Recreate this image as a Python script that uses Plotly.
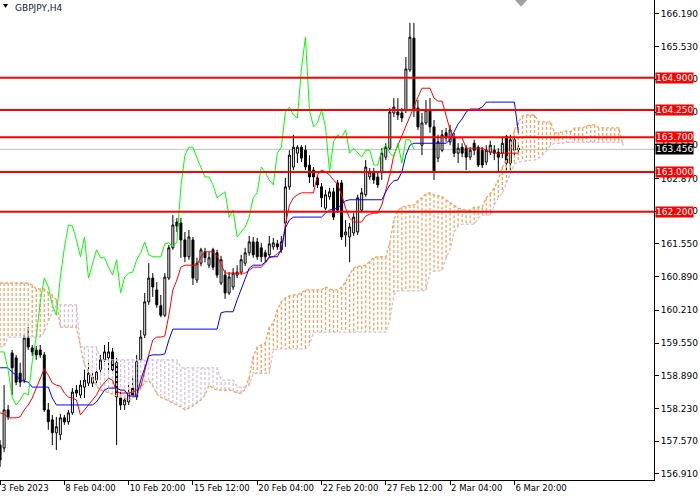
import plotly.graph_objects as go

# GBPJPY H4 candles, bar 0 = 3 Feb 2023 12:00
opens = [157.49, 157.43, 158.20, 159.35, 159.25, 158.94, 158.80, 159.65, 159.45, 159.41,
         159.41, 159.31, 158.20, 158.00, 157.74, 157.70, 158.04, 157.96, 158.14, 158.60,
         158.50, 158.66, 158.74, 158.74, 158.80, 159.01, 159.21, 159.25, 159.37, 159.15,
         158.44, 158.30, 158.36, 158.64, 158.46, 159.21, 159.71, 160.38, 160.86, 160.62,
         160.30, 160.11, 160.86, 161.47, 161.99, 161.97, 161.63, 161.29, 161.63, 160.82,
         161.16, 161.39, 161.12, 161.43, 161.37, 160.76, 160.92, 160.56, 160.68, 160.92,
         160.98, 161.16, 161.37, 161.59, 161.59, 161.47, 161.37, 161.33, 161.49, 161.55,
         161.43, 161.97, 162.70, 163.10, 163.38, 163.50, 163.44, 163.14, 163.04, 162.88,
         162.70, 162.27, 162.50, 162.60, 162.78, 162.78, 161.73, 161.69, 161.77, 161.79,
         162.23, 162.54, 162.90, 163.00, 162.90, 163.00, 163.30, 163.48, 164.19, 164.21,
         164.19, 164.25, 165.06, 165.70, 164.29, 163.54, 163.99, 164.25, 163.91, 163.28,
         163.44, 163.79, 163.61, 163.71, 163.38, 163.50, 163.48, 163.30, 163.58, 163.50,
         163.44, 163.20, 163.40, 163.44, 163.40, 163.38, 163.71, 163.18, 163.44, 163.48]
highs = [157.59, 158.70, 158.30, 159.41, 159.31, 159.15, 159.71, 159.87, 159.51, 159.49,
         159.51, 159.37, 158.34, 158.10, 158.06, 158.12, 158.10, 158.20, 158.64, 158.70,
         158.80, 159.01, 159.15, 158.96, 159.05, 159.31, 159.51, 159.57, 159.45, 159.25,
         158.60, 158.50, 158.70, 158.84, 159.31, 159.81, 160.56, 161.16, 160.96, 160.78,
         160.52, 160.96, 161.53, 162.13, 162.07, 162.07, 161.79, 161.83, 161.69, 161.27,
         161.47, 161.47, 161.39, 161.47, 161.43, 161.31, 161.02, 160.98, 161.06, 161.12,
         161.33, 161.47, 161.71, 161.69, 161.67, 161.57, 161.43, 161.71, 161.67, 161.63,
         161.71, 162.88, 163.44, 163.75, 163.54, 163.54, 163.54, 163.34, 163.10, 162.94,
         162.78, 162.64, 162.68, 162.68, 162.84, 162.84, 162.03, 161.97, 162.17, 162.54,
         162.68, 163.24, 163.08, 163.08, 163.00, 163.48, 163.58, 164.29, 164.49, 164.49,
         164.29, 165.32, 166.01, 166.01, 164.45, 164.19, 164.45, 164.49, 164.05, 163.75,
         163.85, 163.89, 163.95, 163.79, 163.58, 163.58, 163.54, 163.50, 163.65, 163.54,
         163.50, 163.54, 163.63, 163.54, 163.48, 163.71, 163.75, 163.75, 163.71, 163.54]
lows = [157.05, 157.35, 158.00, 158.50, 158.70, 158.66, 158.74, 159.41, 159.29, 159.21,
        159.25, 158.16, 157.80, 157.49, 157.39, 157.59, 157.90, 157.90, 158.10, 158.46,
        158.44, 158.44, 158.68, 158.66, 158.74, 158.90, 159.17, 158.94, 158.96, 157.49,
        158.20, 158.20, 158.30, 158.44, 158.40, 159.17, 159.65, 160.32, 160.48, 160.26,
        160.07, 160.07, 160.82, 161.43, 161.79, 161.27, 161.18, 161.23, 160.72, 160.76,
        161.10, 161.18, 161.06, 161.02, 160.86, 160.72, 160.44, 160.52, 160.62, 160.86,
        160.92, 161.10, 161.31, 161.27, 161.23, 161.18, 161.18, 161.27, 161.43, 161.43,
        161.37, 161.49, 162.64, 163.04, 163.18, 163.20, 163.04, 162.78, 162.70, 162.68,
        162.29, 162.23, 162.44, 162.03, 162.17, 161.63, 161.49, 161.18, 161.71, 161.73,
        162.19, 162.50, 162.84, 162.76, 162.68, 162.84, 163.24, 163.44, 164.11, 164.05,
        164.01, 164.19, 165.02, 164.11, 163.85, 163.34, 163.95, 163.79, 162.84, 163.20,
        163.40, 163.61, 163.54, 163.30, 163.18, 163.30, 163.04, 163.24, 163.34, 163.10,
        163.08, 163.14, 163.34, 163.24, 163.00, 163.28, 163.04, 163.04, 163.34, 163.34]
closes = [157.19, 158.20, 158.06, 159.05, 158.76, 158.76, 159.65, 159.47, 159.37, 159.31,
          159.31, 158.20, 157.96, 157.74, 157.86, 158.04, 157.96, 158.14, 158.56, 158.54,
          158.70, 158.80, 158.94, 158.86, 158.96, 159.21, 159.37, 159.37, 159.01, 158.46,
          158.30, 158.40, 158.54, 158.50, 159.17, 159.67, 160.38, 160.86, 160.68, 160.32,
          160.11, 160.88, 161.47, 161.93, 161.91, 161.63, 161.29, 161.69, 160.86, 161.16,
          161.43, 161.27, 161.27, 161.08, 160.92, 161.23, 160.56, 160.88, 160.96, 160.98,
          161.23, 161.37, 161.59, 161.33, 161.29, 161.29, 161.29, 161.55, 161.57, 161.49,
          161.59, 162.70, 163.34, 163.50, 163.50, 163.28, 163.10, 162.90, 162.90, 162.74,
          162.48, 162.54, 162.60, 162.09, 162.23, 161.69, 161.79, 161.89, 162.09, 162.48,
          162.58, 163.10, 163.00, 162.84, 162.74, 163.38, 163.50, 164.21, 164.31, 164.15,
          164.09, 165.08, 165.72, 164.25, 163.91, 163.99, 164.25, 163.91, 163.00, 163.61,
          163.75, 163.69, 163.85, 163.38, 163.48, 163.38, 163.30, 163.44, 163.44, 163.14,
          163.14, 163.44, 163.54, 163.38, 163.30, 163.58, 163.18, 163.65, 163.65, 163.456]

# Ichimoku Tenkan-sen (red) and Kijun-sen (blue), one value per bar
tenkan = [158.14, 158.12, 158.04, 158.04, 158.04, 158.06, 158.20, 158.30, 158.44, 158.64,
          158.84, 159.03, 158.90, 158.74, 158.70, 158.68, 158.54, 158.46, 158.44, 158.40,
          158.10, 158.20, 158.30, 158.40, 158.50, 158.66, 158.76, 158.84, 158.80, 158.56,
          158.54, 158.54, 158.54, 158.56, 158.60, 158.66, 159.01, 159.31, 159.61, 159.67,
          159.67, 159.69, 160.11, 160.62, 160.82, 161.08, 161.12, 161.12, 161.12, 161.12,
          161.29, 161.39, 161.39, 161.39, 161.31, 161.12, 160.96, 160.96, 160.96, 160.96,
          160.96, 160.96, 161.02, 161.08, 161.08, 161.08, 161.16, 161.27, 161.29, 161.35,
          161.43, 161.93, 162.33, 162.48, 162.54, 162.58, 162.58, 162.58, 162.58, 162.94,
          163.04, 163.00, 162.94, 162.84, 162.74, 162.54, 162.27, 162.07, 161.99, 161.99,
          161.99, 162.11, 162.15, 162.17, 162.17, 162.33, 162.64, 162.94, 163.34, 163.54,
          163.71, 163.95, 164.15, 164.35, 164.51, 164.69, 164.69, 164.69, 164.49, 164.43,
          164.43, 164.15, 163.85, 163.69, 163.69, 163.69, 163.48, 163.48, 163.48, 163.48,
          163.48, 163.44, 163.40, 163.40, 163.36, 163.38, 163.38, 163.38, 163.38, 163.38]
kijun = [159.05, 159.05, 159.05, 158.96, 158.90, 158.80, 158.78, 158.76, 158.66, 158.66,
         158.66, 158.66, 158.66, 158.44, 158.30, 158.30, 158.30, 158.30, 158.30, 158.30,
         158.30, 158.30, 158.30, 158.30, 158.36, 158.48, 158.60, 158.64, 158.64, 158.64,
         158.60, 158.60, 158.48, 158.48, 158.48, 158.80, 159.07, 159.29, 159.31, 159.31,
         159.31, 159.33, 159.61, 159.83, 159.83, 159.83, 159.83, 159.83, 159.83, 159.83,
         159.83, 159.83, 159.83, 159.83, 159.83, 160.16, 160.18, 160.18, 160.18, 160.42,
         160.62, 160.82, 161.06, 161.12, 161.12, 161.12, 161.18, 161.29, 161.29, 161.29,
         161.43, 161.87, 162.03, 162.09, 162.09, 162.09, 162.09, 162.09, 162.09, 162.09,
         162.09, 162.17, 162.23, 162.25, 162.27, 162.35, 162.42, 162.44, 162.44, 162.44,
         162.44, 162.44, 162.44, 162.44, 162.44, 162.44, 162.60, 162.74, 162.82, 162.84,
         163.00, 163.34, 163.54, 163.58, 163.58, 163.58, 163.58, 163.58, 163.58, 163.58,
         163.58, 163.58, 163.65, 163.81, 163.97, 164.07, 164.21, 164.27, 164.27, 164.27,
         164.31, 164.41, 164.41, 164.41, 164.41, 164.41, 164.41, 164.41, 164.41, 163.79]

# Senkou span A / B (already shifted 26 bars forward), bars 0..155
span_a = [160.76, 160.76, 160.76, 160.76, 160.76, 160.76, 160.76, 160.76, 160.72, 160.64,
          160.64, 160.64, 160.56, 160.52, 160.42, 159.87, 159.87, 159.87, 159.87, 159.87,
          159.47, 159.11, 158.96, 158.84, 158.68, 158.60, 158.58, 158.54, 158.52, 158.48,
          158.46, 158.44, 158.40, 158.44, 158.50, 158.64, 158.76, 158.80, 158.68, 158.52,
          158.46, 158.42, 158.38, 158.34, 158.30, 158.26, 158.20, 158.24, 158.28, 158.34,
          158.40, 158.50, 158.70, 158.64, 158.60, 158.60, 158.60, 158.60, 158.58, 158.54,
          158.54, 158.62, 158.86, 159.27, 159.47, 159.51, 159.55, 159.87, 159.95, 160.22,
          160.38, 160.46, 160.50, 160.52, 160.52, 160.56, 160.62, 160.62, 160.62, 160.62,
          160.62, 160.68, 160.64, 160.62, 160.62, 160.68, 160.78, 160.94, 161.06, 161.10,
          161.10, 161.12, 161.20, 161.27, 161.29, 161.29, 161.29, 161.57, 162.03, 162.23,
          162.29, 162.31, 162.33, 162.33, 162.42, 162.48, 162.56, 162.58, 162.54, 162.52,
          162.50, 162.44, 162.38, 162.33, 162.27, 162.25, 162.23, 162.23, 162.29, 162.29,
          162.29, 162.48, 162.56, 162.68, 162.84, 163.10, 163.24, 163.44, 163.85, 164.01,
          164.13, 164.15, 164.15, 164.15, 164.01, 164.01, 164.01, 164.01, 163.79, 163.79,
          163.81, 163.83, 163.81, 163.89, 163.89, 163.89, 163.93, 163.95, 163.95, 163.89,
          163.89, 163.89, 163.89, 163.89, 163.89, 163.54]
span_b = [159.47, 159.47, 159.67, 159.67, 159.67, 159.67, 159.67, 159.67, 159.67, 159.67,
          159.67, 159.77, 159.97, 160.18, 160.30, 160.32, 160.32, 160.32, 160.32, 160.32,
          159.47, 159.47, 159.47, 159.47, 159.47, 159.21, 159.21, 159.21, 159.21, 159.21,
          159.21, 159.21, 159.21, 159.21, 159.21, 159.21, 159.21, 159.21, 159.21, 159.21,
          159.21, 159.21, 159.21, 159.21, 159.21, 159.05, 159.05, 159.05, 159.05, 159.05,
          159.05, 159.05, 159.05, 159.05, 159.05, 158.80, 158.80, 158.80, 158.80, 158.66,
          158.66, 158.66, 158.70, 158.94, 158.94, 158.94, 158.94, 158.94, 159.41, 159.43,
          159.43, 159.43, 159.43, 159.43, 159.43, 159.43, 159.43, 159.51, 159.77, 159.77,
          159.77, 159.77, 159.77, 159.77, 159.77, 159.77, 159.77, 159.77, 159.77, 159.77,
          159.77, 159.77, 159.77, 159.77, 159.77, 159.77, 159.77, 160.01, 160.52, 160.60,
          160.60, 160.60, 160.60, 160.60, 160.60, 160.60, 160.62, 160.96, 161.00, 161.00,
          161.02, 161.27, 161.43, 161.79, 161.91, 161.95, 161.95, 161.95, 161.95, 162.07,
          162.13, 162.13, 162.13, 162.33, 162.48, 162.58, 162.76, 162.96, 163.16, 163.20,
          163.22, 163.22, 163.24, 163.24, 163.28, 163.34, 163.42, 163.54, 163.58, 163.58,
          163.58, 163.60, 163.60, 163.60, 163.60, 163.60, 163.60, 163.60, 163.60, 163.60,
          163.60, 163.60, 163.60, 163.60, 163.60, 163.60]

levels = [164.900, 164.250, 163.700, 163.000, 162.200]
bid = 163.456

ytick_vals = [166.19, 165.53, 164.87, 164.21, 163.55, 162.87, 162.21, 161.55,
              160.89, 160.21, 159.55, 158.89, 158.23, 157.57, 156.91]
xtick_bars = [0, 16, 32, 48, 64, 80, 96, 112, 128]
xtick_text = ["3 Feb 2023", "8 Feb 04:00", "10 Feb 20:00", "15 Feb 12:00", "20 Feb 04:00",
              "22 Feb 20:00", "27 Feb 12:00", "2 Mar 04:00", "6 Mar 20:00"]

SANDY = "#F4A460"
THISTLE = "#D8BFD8"
FONT = "DejaVu Sans"

bars = list(range(len(closes)))
cloud_bars = list(range(len(span_a)))
shift = 26

fig = go.Figure()

fig.add_trace(go.Candlestick(
    x=bars, open=opens, high=highs, low=lows, close=closes,
    increasing=dict(line=dict(color="black", width=1), fillcolor="white"),
    decreasing=dict(line=dict(color="black", width=1), fillcolor="black"),
    whiskerwidth=0, hoverinfo="skip", showlegend=False))

# cloud hatching: one dashed vertical stroke per bar
hatch = {SANDY: ([], []), THISTLE: ([], [])}
for i in cloud_bars:
    col = SANDY if span_a[i] >= span_b[i] else THISTLE
    hatch[col][0].extend([i, i, None])
    hatch[col][1].extend([span_a[i], span_b[i], None])
for col, (hx, hy) in hatch.items():
    fig.add_trace(go.Scatter(x=hx, y=hy, mode="lines", connectgaps=False,
                             line=dict(color=col, width=1.3, dash="3px,2px"),
                             hoverinfo="skip", showlegend=False))

fig.add_trace(go.Scatter(x=cloud_bars, y=span_a, mode="lines",
                         line=dict(color=SANDY, width=1.3, dash="3px,2px"),
                         hoverinfo="skip", showlegend=False))
fig.add_trace(go.Scatter(x=cloud_bars, y=span_b, mode="lines",
                         line=dict(color=THISTLE, width=1.3, dash="3px,2px"),
                         hoverinfo="skip", showlegend=False))

fig.add_trace(go.Scatter(x=bars, y=tenkan, mode="lines",
                         line=dict(color="#FF0000", width=1),
                         hoverinfo="skip", showlegend=False))
fig.add_trace(go.Scatter(x=bars, y=kijun, mode="lines",
                         line=dict(color="#0000FF", width=1),
                         hoverinfo="skip", showlegend=False))
# chikou span = close plotted 26 bars back
fig.add_trace(go.Scatter(x=bars[:-shift], y=closes[shift:], mode="lines",
                         line=dict(color="#00FF00", width=1),
                         hoverinfo="skip", showlegend=False))

shapes = [dict(type="line", xref="paper", x0=0, x1=1, yref="y", y0=bid, y1=bid,
               line=dict(color="#C0C0C0", width=1), layer="below")]
annotations = []
for lv in levels:
    shapes.append(dict(type="line", xref="paper", x0=0, x1=1, yref="y", y0=lv, y1=lv,
                       line=dict(color="#FF0000", width=2), layer="above"))
    annotations.append(dict(xref="paper", x=1, xanchor="left", xshift=1, yref="y", y=lv,
                            text=f"{lv:.3f}", showarrow=False, bgcolor="#FF0000",
                            font=dict(family=FONT, size=9, color="white"),
                            borderpad=0))
annotations.append(dict(xref="paper", x=1, xanchor="left", xshift=1, yref="y", y=bid,
                        text=f"{bid:.3f}", showarrow=False, bgcolor="black",
                        font=dict(family=FONT, size=9, color="white"),
                        borderpad=0))

# symbol caption with its drop-down triangle
annotations.append(dict(xref="paper", x=0, xanchor="left", xshift=13, yref="paper", y=1,
                        yanchor="top", yshift=-1, text="GBPJPY,H4", showarrow=False,
                        font=dict(family=FONT, size=9, color="#10183a")))
shapes.append(dict(type="path", xref="paper", yref="paper",
                   path="M 0.0046 0.9917 L 0.0122 0.9917 L 0.0084 0.9833 Z",
                   fillcolor="black", line=dict(width=0)))
# chart-shift marker at the top
shapes.append(dict(type="path", xref="paper", yref="paper",
                   path="M 0.7875 1 L 0.8060 1 L 0.7968 0.9860 Z",
                   fillcolor="#A0A0A0", line=dict(width=0)))

fig.update_layout(
    width=700, height=500,
    margin=dict(l=0, r=46, t=0, b=20, autoexpand=False),
    paper_bgcolor="white", plot_bgcolor="white",
    showlegend=False,
    shapes=shapes, annotations=annotations,
    font=dict(family=FONT, size=9, color="black"),
    xaxis=dict(range=[-0.02, 162.75], rangeslider=dict(visible=False),
               automargin=False, tickangle=0,
               showgrid=False, zeroline=False, showline=True, linecolor="black",
               linewidth=1, ticks="outside", ticklen=4, tickcolor="black",
               tickvals=xtick_bars, ticktext=xtick_text,
               ticklabelposition="outside right",
               tickfont=dict(family=FONT, size=8.5, color="black")),
    yaxis=dict(side="right", range=[156.786, 166.47], automargin=False,
               showgrid=False, zeroline=False, showline=True, linecolor="black",
               linewidth=1, ticks="outside", ticklen=4, tickcolor="black",
               tickvals=ytick_vals, ticktext=[f"{v:.3f}" for v in ytick_vals],
               tickfont=dict(family=FONT, size=9, color="black")),
)

# page body margin would shift the 700x500 figure; remove it
fig.write_html("out.html", config={"displayModeBar": False},
               post_script="document.body.style.margin='0';"
                           "document.body.style.overflow='hidden';")
